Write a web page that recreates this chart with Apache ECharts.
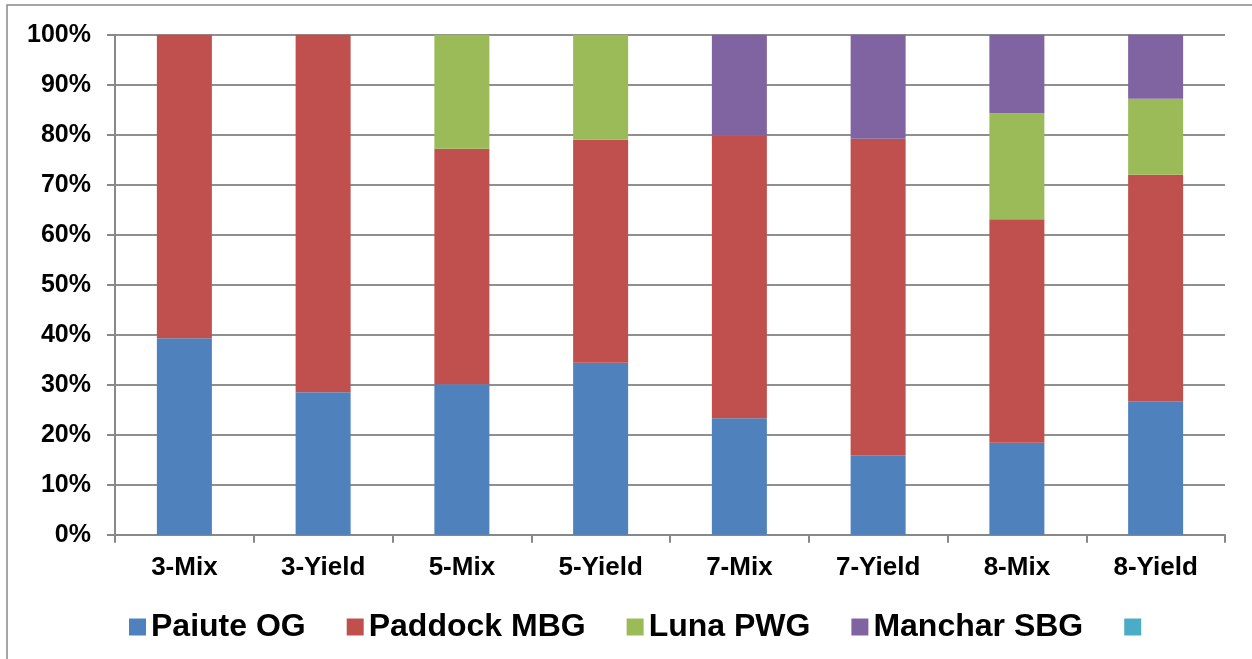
<!DOCTYPE html>
<html>
<head>
<meta charset="utf-8">
<script src="https://cdn.jsdelivr.net/npm/echarts@6/dist/echarts.min.js"></script>
<style>
html,body{margin:0;padding:0;background:#fff;}
#c{width:1252px;height:659px;}
</style>
</head>
<body>
<div id="c"></div>
<script>
const categories = ['3-Mix','3-Yield','5-Mix','5-Yield','7-Mix','7-Yield','8-Mix','8-Yield'];
const paiuteOG   = [39.3, 28.5, 30.1, 34.4, 23.3, 15.9, 18.4, 26.7];
const paddockMBG = [60.7, 71.5, 47.1, 44.6, 56.6, 63.3, 44.7, 45.3];
const lunaPWG    = [null, null, 22.8, 21.0, null, null, 21.2, 15.2];
const mancharSBG = [null, null, null, null, 20.1, 20.8, 15.7, 12.8];
const seriesNames = ['Paiute OG','Paddock MBG','Luna PWG','Manchar SBG',' '];
const colors = ['#4F81BD','#C0504D','#9BBB59','#8064A2','#4BACC6'];

const font = '"Liberation Sans", Arial, sans-serif';
const chart = echarts.init(document.getElementById('c'), null, {renderer:'canvas'});
const datas = [paiuteOG, paddockMBG, lunaPWG, mancharSBG, []];
const series = seriesNames.map((n,i)=>({
  name:n, type:'bar', stack:'total', barWidth:55,
  data: datas[i],
  itemStyle:{color:colors[i]},
  emphasis:{disabled:true}
}));
chart.setOption({
  animation:false,
  backgroundColor:'#fff',
  graphic:[{type:'rect', shape:{x:7,y:5,width:1400,height:800}, style:{fill:'none', stroke:'#888', lineWidth:1.5}, silent:true, z:-1}],
  grid:{left:115, right:27, top:34.7, bottom:124.3, containLabel:false},
  legend:{
    data: seriesNames, left:124, top:606, itemWidth:17, itemHeight:17, itemGap:41,
    icon:'rect',
    textStyle:{fontFamily:font, fontWeight:'bold', fontSize:32, color:'#000'}
  },
  xAxis:{
    type:'category', data:categories, boundaryGap:true,
    axisLine:{lineStyle:{color:'#888', width:2}},
    axisTick:{show:true, length:8, lineStyle:{color:'#888', width:2}},
    axisLabel:{fontFamily:font, fontWeight:'bold', fontSize:26, color:'#000', margin:20}
  },
  yAxis:{
    type:'value', min:0, max:100, interval:10,
    axisLine:{show:true, lineStyle:{color:'#888', width:2}},
    axisTick:{show:true, length:8, lineStyle:{color:'#888', width:2}},
    splitLine:{lineStyle:{color:'#8f8f8f', width:2}},
    axisLabel:{formatter:'{value}%', fontFamily:font, fontWeight:'bold', fontSize:25, color:'#000', margin:24}
  },
  series: series
});
</script>
</body>
</html>
